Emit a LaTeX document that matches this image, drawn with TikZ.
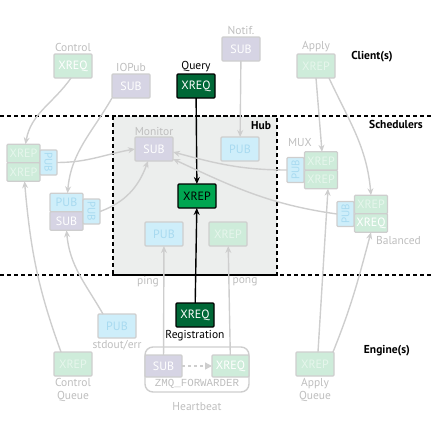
\documentclass[tikz,border=0pt]{standalone}
\usepackage{fontspec}
\setmainfont{PT Sans}
\setmonofont{Liberation Mono}
\usetikzlibrary{arrows.meta, positioning, calc}
\definecolor{linegray}{RGB}{206,206,206}
\definecolor{labelgray}{RGB}{190,190,190}
\definecolor{palegreen}{RGB}{206,236,218}
\definecolor{palegreentext}{RGB}{230,246,236}
\definecolor{lavender}{RGB}{214,212,228}
\definecolor{paleblue}{RGB}{206,238,250}
\definecolor{palebluetext}{RGB}{168,218,240}
\definecolor{darkgreen}{RGB}{0,104,55}
\definecolor{midgreen}{RGB}{0,166,81}
\definecolor{hubgray}{RGB}{236,238,237}

\begin{document}
\begin{tikzpicture}[x=1pt, y=1pt,
    font=\fontsize{11.5}{13}\selectfont,
    box/.style={draw=linegray, line width=1.4pt, rounded corners=1pt, minimum width=38pt, minimum height=24pt, inner sep=0pt, outer sep=0pt, font=\fontsize{12}{13}\selectfont},
    repbox/.style={box, fill=palegreen, text=palegreentext},
    reqbox/.style={box, fill=palegreen, text=white},
    subbox/.style={box, fill=lavender, text=white},
    pubbox/.style={box, fill=paleblue, text=palebluetext},
    half/.style={minimum width=33pt, minimum height=18.5pt},
    tall/.style={minimum width=25pt, minimum height=17pt, font=\fontsize{11}{12}\selectfont},
    darkbox/.style={box, draw=black, fill=darkgreen, text=white},
    lab/.style={text=labelgray, inner sep=1pt},
    region/.style={font=\fontsize{11.5}{13}\selectfont\bfseries},
    sep/.style={line width=1.5pt, dash pattern=on 4pt off 3pt},
    link/.style={draw=linegray, line width=1.4pt, -{Stealth[length=7pt, width=6pt]}},
    mainlink/.style={draw=black, line width=1.4pt, -{Stealth[length=7pt, width=6pt]}}
]
    \useasboundingbox (0,0) rectangle (432,-432);

    % Hub area and layer separators
    \fill[hubgray] (113,-116) rectangle (277,-275);
    \draw[sep] (113,-116) rectangle (277,-275);
    \draw[sep] (0,-116) -- (432,-116);
    \draw[sep] (0,-275) -- (432,-275);

    \node[region] (client) at (372,-57) {Client(s)};
    \node[region] (sched) at (396,-124) {Schedulers};
    \node[region] (engine) at (387,-351) {Engine(s)};
    \node[region] (hub) at (261,-126) {Hub};

    % Client sockets
    \node[reqbox] (ctlc) at (73,-66) {XREQ};
    \node[lab, above=1pt of ctlc] {Control};
    \node[subbox] (iopub) at (131,-86) {SUB};
    \node[lab, above=1pt of iopub] {IOPub};
    \node[darkbox] (query) at (196,-86) {XREQ};
    \node[inner sep=1pt, above=1pt of query] {Query};
    \node[subbox] (notif) at (241,-49) {SUB};
    \node[lab, above=1pt of notif] {Notif.};
    \node[repbox] (applyc) at (316,-66) {XREP};
    \node[lab, above=1pt of applyc] {Apply};

    % Hub sockets
    \node[subbox] (mon) at (154,-149) {SUB};
    \node[lab, above=0pt of mon] {Monitor};
    \node[pubbox] (hubpub) at (240,-149) {PUB};
    \node[box, draw=black, fill=midgreen] (hubrep) at (197,-196) {XREP};
    \node[pubbox] (pingpub) at (164,-234) {PUB};
    \node[repbox] (pongrep) at (228,-234) {XREP};

    % Control scheduler
    \node[repbox, half] (ctlrepa) at (23.5,-153.5) {XREP};
    \node[repbox, half, below=0pt of ctlrepa] (ctlrepb) {XREP};
    \node[pubbox, tall, rotate=-90] (ctlpub) at (48.5,-162.5) {PUB};

    % IOPub scheduler
    \node[pubbox, half] (iopubp) at (66.5,-202.5) {PUB};
    \node[subbox, half, below=0pt of iopubp] (iopubs) {SUB};
    \node[pubbox, tall, rotate=-90] (iopubv) at (91.5,-211.5) {PUB};

    % MUX scheduler
    \node[repbox, half] (muxrepa) at (321,-161) {XREP};
    \node[repbox, half, below=0pt of muxrepa] (muxrepb) {XREP};
    \node[pubbox, tall, rotate=90] (muxpub) at (295.5,-170) {PUB};
    \node[lab] (mux) at (300,-143) {MUX};

    % Balanced scheduler
    \node[repbox, half] (balrep) at (371,-204.5) {XREP};
    \node[reqbox, half, below=0pt of balrep] (balreq) {XREQ};
    \node[pubbox, tall, rotate=90] (balpub) at (345.5,-214) {PUB};
    \node[lab, anchor=west] (bal) at (375,-240) {Balanced};

    % Engine sockets
    \node[darkbox] (reg) at (195,-315) {XREQ};
    \node[inner sep=1pt, below=2pt of reg] {Registration};
    \node[pubbox] (stdpub) at (117,-326) {PUB};
    \node[lab, below=1pt of stdpub] {stdout/err};
    \node[repbox] (ctlq) at (73,-364) {XREP};
    \node[lab, below=1pt of ctlq, align=center] {Control\\Queue};
    \node[repbox] (apq) at (315,-364) {XREP};
    \node[lab, below=1pt of apq, align=center] {Apply\\Queue};

    % Heartbeat
    \draw[draw=linegray, line width=1.4pt, rounded corners=8pt] (145,-347) rectangle (249,-392);
    \node[subbox, minimum width=37pt, minimum height=22pt] (hbsub) at (163.5,-366) {SUB};
    \node[reqbox, minimum width=37pt, minimum height=22pt] (hbreq) at (230.5,-366) {XREQ};
    \node[lab, font=\fontsize{10.8}{12}\ttfamily] (fwd) at (197,-384) {ZMQ\_FORWARDER};
    \node[lab] (hb) at (197,-407) {Heartbeat};
    \draw[draw=linegray, line width=1.4pt, dash pattern=on 3pt off 3pt, -{Triangle[length=7pt, width=7pt]}] (hbsub) -- (hbreq);

    \node[lab] (ping) at (148,-282) {ping};
    \node[lab] (pong) at (245,-282) {pong};

    % Main connections
    \draw[mainlink] (query) -- (hubrep);
    \draw[mainlink] (reg) -- (hubrep);

    % Client to schedulers / hub
    \draw[link] ([xshift=-2pt]ctlc.south) to[out=235, in=80] ([xshift=2pt]ctlrepa.north);
    \draw[link] ([xshift=-19pt]iopub.south) to[out=240, in=85] ([xshift=1pt]iopubp.north);
    \draw[link] (notif) -- (hubpub);
    \draw[link] ([xshift=0pt]applyc.south) -- ([xshift=1pt]muxrepa.north);
    \draw[link] ([xshift=13pt]applyc.south) to[out=-65, in=95] (balrep.north);

    % Scheduler monitors
    \draw[link] (ctlpub.north) to[out=0, in=190] (mon.west);
    \draw[link] (iopubv.north) to[out=20, in=250] ([xshift=-6pt]mon.south);
    \draw[link] (muxpub.north) to[out=180, in=-15] ([yshift=-3pt]mon.east);
    \draw[link] (balpub.north) to[out=172, in=-25] ([yshift=-10pt]mon.east);

    % Engines to schedulers / hub
    \draw[link] ([xshift=-12pt]ctlq.north) to[out=110, in=-85] ([xshift=1pt]ctlrepb.south);
    \draw[link] ([xshift=-14pt]stdpub.north) to[out=120, in=-85] (iopubs.south);
    \draw[link] (hbsub) -- (pingpub);
    \draw[link] (hbreq) -- (pongrep);
    \draw[link] ([xshift=3pt]apq.north) -- ([xshift=7pt]muxrepb.south);
    \draw[link] ([xshift=18pt]apq.north) to[out=68, in=-105] (balreq.south);
\end{tikzpicture}
\end{document}
